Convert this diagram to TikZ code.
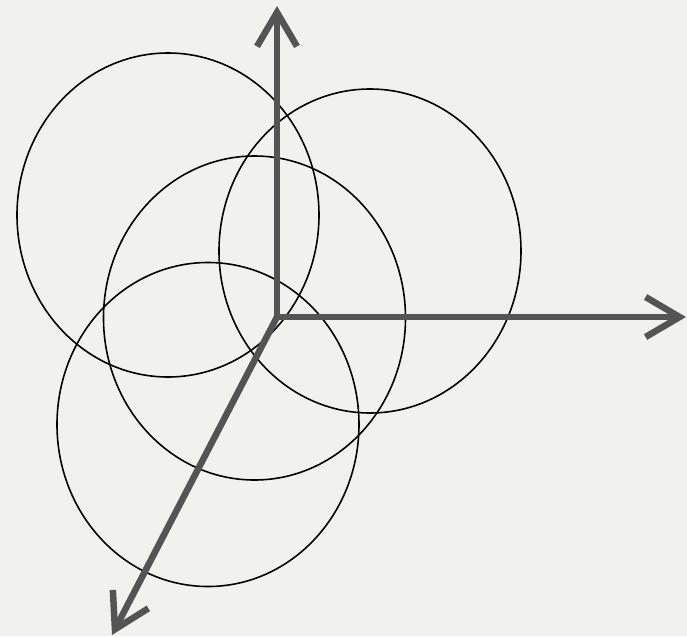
\documentclass[tikz,border=0pt]{standalone}
\usetikzlibrary{arrows.meta}
\definecolor{paper}{RGB}{241,241,238}
\definecolor{axisgray}{RGB}{84,84,84}

\begin{document}
\begin{tikzpicture}[x=1cm,y=1cm,
    axis/.style={draw=axisgray,line width=0.13cm,
      -{Straight Barb[length=0.68cm,width=0.8cm]}},
    orbit/.style={draw=black,line width=0.9pt}]
  \fill[paper] (-5.54,-6.38) rectangle (8.2,6.34);
  \useasboundingbox (-5.54,-6.38) rectangle (8.2,6.34);
  % four overlapping rings
  \foreach \cx/\cy in {-2.18/2.04,1.86/1.32,-0.45/-0.02,-1.38/-2.15} {
    \draw[orbit] (\cx,\cy) ellipse [x radius=3.02,y radius=3.24];
  }
  % axes
  \coordinate (O) at (0,0);
  \coordinate (up) at (0,6.22);
  \coordinate (right) at (8.18,0);
  \coordinate (downleft) at (-3.3,-6.36);
  \draw[axis] (O) -- (up);
  \draw[axis] (O) -- (right);
  \draw[axis] (O) -- (downleft);
\end{tikzpicture}
\end{document}
